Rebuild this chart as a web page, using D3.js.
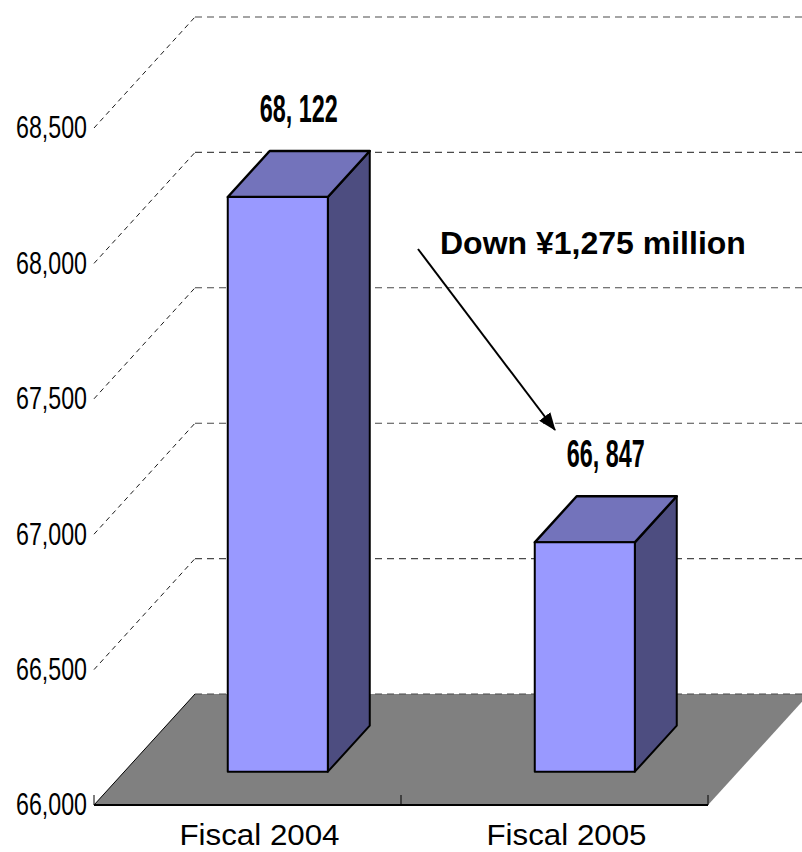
<!DOCTYPE html>
<html>
<head>
<meta charset="utf-8">
<script src="https://cdn.jsdelivr.net/npm/d3@7"></script>
<style>
  html, body { margin: 0; padding: 0; background: #fff; }
  svg { display: block; }
</style>
</head>
<body>
<svg id="chart" width="802" height="852"></svg>
<script>
// Sales by fiscal year (¥ million)
const categories = ["Fiscal 2004", "Fiscal 2005"];
const values = [68122, 66847];
const valueLabels = ["68, 122", "66, 847"];
const yTicks = [66000, 66500, 67000, 67500, 68000, 68500];
const annotationText = "Down ¥1,275 million";

const W = 802, H = 852;
const svg = d3.select("#chart");

// Front plane of the 3-D box and the depth vector toward the back wall
const front = { left: 94, right: 708, floor: 805, top: 128 };
const depth = { dx: 101, dy: -111 };
// The bars sit between these fractions of the box depth
const barDepth0 = 0.30, barDepth1 = 0.715;
const barWidthRatio = 0.326;

const y = d3.scaleLinear()
  .domain([yTicks[0], yTicks[yTicks.length - 1]])
  .range([front.floor, front.top]);

const x = d3.scaleBand()
  .domain(categories)
  .range([front.left, front.right])
  .padding(0);

const fmt = d3.format(",");
const numFont = "'Liberation Sans Narrow', 'Liberation Sans', Arial, sans-serif";
const textFont = "'Liberation Sans', Arial, sans-serif";

// ---- Floor ----
const floorPts = [
  [front.left, front.floor],
  [front.right, front.floor],
  [front.right + depth.dx, front.floor + depth.dy],
  [front.left + depth.dx, front.floor + depth.dy]
];
svg.append("path")
  .attr("d", "M" + floorPts.map(p => p.join(",")).join("L") + "Z")
  .attr("fill", "#808080")
  .attr("stroke", "none");
// left edge of the floor
svg.append("line")
  .attr("x1", floorPts[0][0]).attr("y1", floorPts[0][1])
  .attr("x2", floorPts[3][0]).attr("y2", floorPts[3][1])
  .attr("stroke", "#000").attr("stroke-width", 1);

// ---- Gridlines: diagonals on the side wall and horizontals on the back wall ----
const grid = svg.append("g");
yTicks.forEach(v => {
  const yy = y(v);
  if (v !== yTicks[0]) {
    grid.append("line")
      .attr("x1", front.left).attr("y1", yy)
      .attr("x2", front.left + depth.dx).attr("y2", yy + depth.dy)
      .attr("stroke", "#000").attr("stroke-width", 0.9)
      .attr("stroke-dasharray", "5,4");
  }
  grid.append("line")
    .attr("x1", front.left + depth.dx).attr("y1", yy + depth.dy)
    .attr("x2", front.right + depth.dx).attr("y2", yy + depth.dy)
    .attr("stroke", "#4a4a4a").attr("stroke-width", 1.1)
    .attr("stroke-dasharray", "7,5");
});

// front edge of the floor (category axis line)
svg.append("line")
  .attr("x1", front.left).attr("y1", front.floor)
  .attr("x2", front.right).attr("y2", front.floor)
  .attr("stroke", "#000").attr("stroke-width", 1.8);

// category boundary ticks
const tickXs = [front.left].concat(categories.map(c => x(c) + x.bandwidth()));
svg.selectAll(".ctick").data(tickXs).enter().append("line")
  .attr("x1", d => d).attr("x2", d => d)
  .attr("y1", front.floor).attr("y2", front.floor - 10)
  .attr("stroke", "#000").attr("stroke-width", 1);

// ---- Value axis labels ----
svg.selectAll(".ylab").data(yTicks).enter().append("text")
  .attr("x", front.left - 7)
  .attr("y", d => y(d) + 2)
  .attr("text-anchor", "end")
  .attr("dominant-baseline", "middle")
  .attr("font-family", numFont)
  .attr("font-size", 32)
  .attr("textLength", 71)
  .attr("lengthAdjust", "spacingAndGlyphs")
  .attr("fill", "#000")
  .text(d => fmt(d));

// ---- Category labels ----
svg.selectAll(".xlab").data(categories).enter().append("text")
  .attr("x", d => x(d) + x.bandwidth() / 2 + 12)
  .attr("y", 845)
  .attr("text-anchor", "middle")
  .attr("font-family", textFont)
  .attr("font-size", 29)
  .attr("textLength", 160)
  .attr("lengthAdjust", "spacingAndGlyphs")
  .attr("fill", "#000")
  .text(d => d);

// ---- 3-D bars ----
const bars = categories.map((c, i) => {
  const bw = x.bandwidth() * barWidthRatio;
  const cx = x(c) + x.bandwidth() / 2;
  const ox0 = depth.dx * barDepth0, oy0 = depth.dy * barDepth0;
  const ddx = depth.dx * (barDepth1 - barDepth0), ddy = depth.dy * (barDepth1 - barDepth0);
  const xl = cx - bw / 2 + ox0, xr = cx + bw / 2 + ox0;
  const yb = y(yTicks[0]) + oy0;
  const yt = y(values[i]) + oy0;
  return { c, i, xl, xr, yb, yt, ddx, ddy };
});

const bg = svg.append("g")
  .attr("stroke", "#000")
  .attr("stroke-width", 2)
  .attr("stroke-linejoin", "round");

bars.forEach(b => {
  // right side face
  bg.append("path")
    .attr("d", `M${b.xr},${b.yt}L${b.xr + b.ddx},${b.yt + b.ddy}L${b.xr + b.ddx},${b.yb + b.ddy}L${b.xr},${b.yb}Z`)
    .attr("fill", "#4D4D80");
  // top face
  bg.append("path")
    .attr("d", `M${b.xl},${b.yt}L${b.xl + b.ddx},${b.yt + b.ddy}L${b.xr + b.ddx},${b.yt + b.ddy}L${b.xr},${b.yt}Z`)
    .attr("fill", "#7373BB")
    .attr("stroke-width", 2.4);
  // front face
  bg.append("rect")
    .attr("x", b.xl).attr("y", b.yt)
    .attr("width", b.xr - b.xl).attr("height", b.yb - b.yt)
    .attr("fill", "#9999FF");
});

// ---- Value labels above bars ----
svg.selectAll(".vlab").data(bars).enter().append("text")
  .attr("x", b => (b.xl + b.xr) / 2 + b.ddx / 2)
  .attr("y", b => b.yt + b.ddy - 29)
  .attr("text-anchor", "middle")
  .attr("font-family", numFont)
  .attr("font-weight", "bold")
  .attr("font-size", 38)
  .attr("textLength", 78)
  .attr("lengthAdjust", "spacingAndGlyphs")
  .attr("fill", "#000")
  .text(b => valueLabels[b.i]);

// ---- Change annotation with arrow ----
const defs = svg.append("defs");
defs.append("marker")
  .attr("id", "arrowhead")
  .attr("viewBox", "0 0 18 14")
  .attr("refX", 17).attr("refY", 7)
  .attr("markerWidth", 18).attr("markerHeight", 14)
  .attr("markerUnits", "userSpaceOnUse")
  .attr("orient", "auto")
  .append("path")
  .attr("d", "M0,0L18,7L0,14Z")
  .attr("fill", "#000");

const ann = { textX: 440, textY: 254, arrowX1: 418, arrowY1: 249, arrowX2: 555, arrowY2: 430 };
svg.append("line")
  .attr("x1", ann.arrowX1).attr("y1", ann.arrowY1)
  .attr("x2", ann.arrowX2).attr("y2", ann.arrowY2)
  .attr("stroke", "#000").attr("stroke-width", 2)
  .attr("marker-end", "url(#arrowhead)");
svg.append("text")
  .attr("x", ann.textX).attr("y", ann.textY)
  .attr("font-family", textFont)
  .attr("font-weight", "bold")
  .attr("font-size", 32)
  .attr("fill", "#000")
  .text(annotationText);
</script>
</body>
</html>
